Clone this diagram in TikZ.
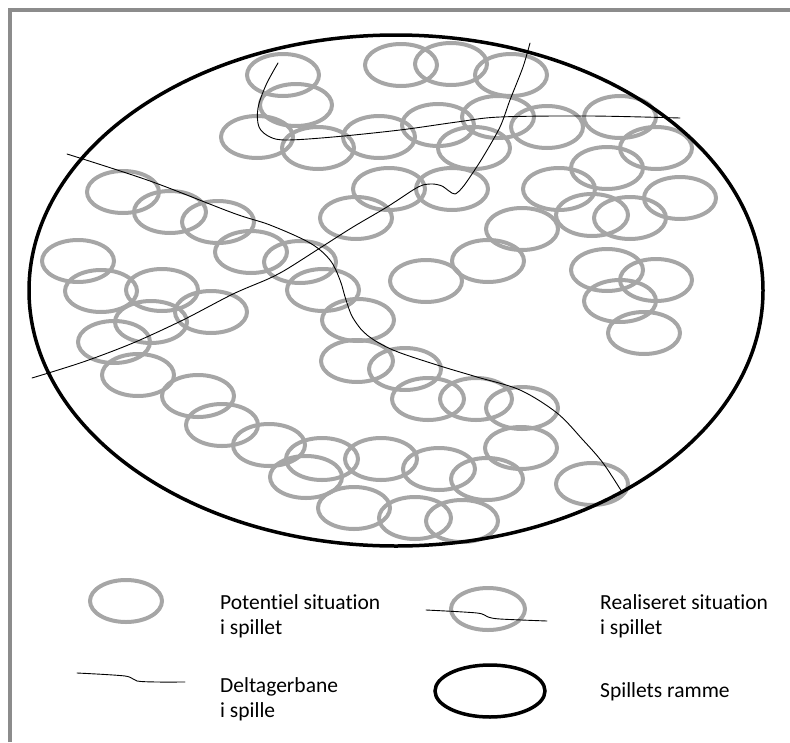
\documentclass[tikz,border=0pt]{standalone}
\usepackage{fontspec}
\setmainfont[Ligatures=NoCommon]{Carlito}
\definecolor{sitgray}{HTML}{A6A6A6}
\definecolor{framegray}{HTML}{8C8C8C}
\begin{document}
\begin{tikzpicture}[x=1pt,y=-1pt,
  potential/.style={draw=sitgray, line width=4pt},
  gameframe/.style={draw=black, line width=3.5pt},
  trail/.style={draw=black, line width=0.9pt, line cap=round, line join=round},
  legendtext/.style={anchor=base west, inner sep=0pt, align=left,
    font=\fontsize{21.5}{25}\selectfont}]

% page extent and outer frame
\useasboundingbox (0,0) rectangle (790,742);
\draw[framegray, line width=4pt] (10,742) -- (10,10) -- (790,10);

% potential situations
\foreach \cx/\cy in {
  283/75, 296/105, 257/137, 318/148, 379/137, 401/65, 451/64, 511/75,
  438/125, 498/117, 547/127, 620/117, 474/148, 656/148, 607/168, 559/189,
  680/198, 452/189, 389/189, 356/218, 592/215, 630/218, 522/229, 488/261,
  426/281, 607/270, 656/280, 620/301, 644/333,
  123/192, 170/212, 218/222, 251/252, 300/262, 78/261, 101/291, 162/290,
  211/312, 151/322, 114/342, 138/375, 198/396, 222/425, 269/445, 322/459,
  306/477, 381/459, 354/508, 439/469, 487/479, 415/518, 462/521, 521/448,
  592/484, 522/408, 476/399, 428/399, 405/369, 357/361, 358/320, 323/290}
  \draw[potential] (\cx,\cy) ellipse [x radius=36, y radius=21];

% the frame of the game
\draw[gameframe] (396,290.5) ellipse [x radius=367, y radius=255.5];

% participant trails
\draw[trail] plot[smooth, tension=0.55] coordinates {
  (278,63) (266,85) (258,108) (259,127) (270,137) (287,140) (333,137)
  (400,130) (457,122) (500,117) (590,116) (680,118)};
\draw[trail] plot[smooth, tension=0.5] coordinates {
  (530,43) (523,67) (510,100) (500,127) (483,157) (470,177) (462,188)
  (455,194) (449,191) (442,186) (433,184) (423,185) (413,190) (387,207)
  (353,227) (320,248) (287,269) (268,279) (233,294) (183,320) (133,343)
  (83,362) (32,378)};
\draw[trail] plot[smooth, tension=0.55] coordinates {
  (67,154) (150,181) (233,213) (270,225) (310,243) (330,260) (340,280)
  (346,300) (353,318) (367,335) (393,350) (437,365) (477,377) (520,390)
  (557,413) (583,440) (603,463) (622,492)};

% legend (base anchor of a two-line label sits on its last line)
\draw[potential] (126,601) ellipse [x radius=36, y radius=21];
\node[legendtext] (lpot) at (220,634) {Potentiel situation\\i spillet};

\draw[potential] (488,609) ellipse [x radius=37, y radius=21];
\draw[trail] plot[smooth, tension=0.5] coordinates {
  (426,610) (477,613) (488,617) (500,619) (547,621)};
\node[legendtext] (lreal) at (600,634) {Realiseret situation\\i spillet};

\draw[trail] plot[smooth, tension=0.5] coordinates {
  (77,673) (125,676) (137,681) (157,682) (185,682)};
\node[legendtext] (ltrail) at (220,717) {Deltagerbane\\i spille};

\draw[gameframe] (490,691) ellipse [x radius=55, y radius=26];
\node[legendtext] (lframe) at (600,697) {Spillets ramme};
\end{tikzpicture}
\end{document}
